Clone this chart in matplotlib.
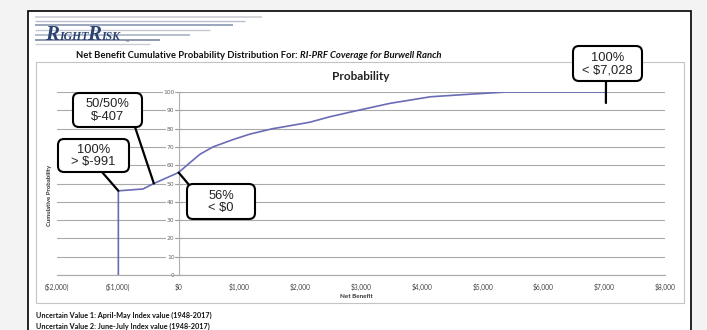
import matplotlib.pyplot as plt
from matplotlib.patches import Rectangle, FancyBboxPatch, ConnectionPatch

# cumulative distribution of net benefit
net_benefit = [-991, -991, -586, -407, 0, 138, 352, 566, 895, 1174, 1553, 1700,
               2161, 2490, 2983, 3477, 4145, 4842, 5400, 7028]
cum_prob = [0, 46, 47, 50, 56, 60, 66, 70, 74, 77, 80, 80.8,
            83.5, 86.5, 90.2, 93.8, 97.4, 98.9, 100, 100]

x_ticks = [-2000, -1000, 0, 1000, 2000, 3000, 4000, 5000, 6000, 7000, 8000]
x_labels = ['($2,000)', '($1,000)', '$0', '$1,000', '$2,000', '$3,000',
            '$4,000', '$5,000', '$6,000', '$7,000', '$8,000']
y_ticks = [0, 10, 20, 30, 40, 50, 60, 70, 80, 90, 100]

# callouts: text, point it refers to
callout_text = ['50/50%\n$-407', '100%\n> $-991', '56%\n< $0', '100%\n< $7,028']
callout_pts = [(-407, 50), (-991, 46), (0, 56), (7028, 94)]

footnotes = ['Uncertain Value 1: April-May Index value (1948-2017)',
             'Uncertain Value 2: June-July Index value (1948-2017)']

W, H = 707, 330
fig = plt.figure(figsize=(W / 100, H / 100), dpi=100, facecolor='#f3f3f3')

# page layer in pixel units
bg = fig.add_axes([0, 0, 1, 1], zorder=0)
bg.set_xlim(0, W)
bg.set_ylim(H, 0)
bg.axis('off')
bg.add_patch(Rectangle((28, 11), 663, 340, fc='white', ec='black', lw=1.2))
bg.add_patch(Rectangle((36, 62), 648, 241, fc='white', ec='#c4c4c4', lw=0.8))

# logo stripes + lettering
stripes = [(17, 262, '#c9cdd6', 1.2), (21, 245, '#b7bfcf', 1.0), (25, 233, '#9aa6bd', 1.4),
           (30, 210, '#c3c9d4', 1.0), (35, 190, '#aab3c5', 1.2), (40, 160, '#8d99b0', 1.4),
           (44, 150, '#c9cdd6', 1.0)]
for y, x1, c, lw in stripes:
    bg.plot([35, x1], [y, y], color=c, lw=lw, solid_capstyle='butt')
logo_parts = [(45, 'R', 15), (59, 'IGHT', 8.5), (87, 'R', 15), (101, 'ISK', 8.5)]
for x, s, fs in logo_parts:
    bg.text(x, 40, s, fontsize=fs, family='Liberation Serif', style='italic',
            weight='bold', color='#2b4270', va='baseline')
bg.text(124, 44, '™', fontsize=3.5, color='#2b4270')

t1 = bg.text(76, 58, 'Net Benefit Cumulative Probability Distribution For: ',
             fontsize=6.8, family='Lato', weight='bold', color='#111', va='baseline')
bg.annotate('RI-PRF Coverage for Burwell Ranch', xy=(1, 0), xycoords=t1,
            fontsize=6.8, family='Lato', weight='bold', style='italic',
            color='#111', va='bottom')
bg.text(361, 76, 'Probability', fontsize=8.5, family='Lato', weight='bold',
        color='#222', ha='center', va='center')
bg.text(50, 195, 'Cumulative Probability', rotation=90, fontsize=4.3,
        family='Lato', weight='bold', color='#333', ha='center', va='center')
bg.text(356, 297, 'Net Benefit', fontsize=4.5, family='Lato', weight='bold',
        color='#333', ha='center', va='center')
for i, s in enumerate(footnotes):
    bg.text(36, 315 + 11 * i, s, fontsize=5.2, family='Lato', weight='bold',
            color='#111', va='center')

# chart
ax = fig.add_axes([57 / W, (H - 275) / H, 608 / W, 183 / H], zorder=1)
ax.patch.set_alpha(0)
ax.plot(net_benefit, cum_prob, color='#6a6cb6', lw=1.2, zorder=3)
ax.set_xlim(-2000, 8000)
ax.set_ylim(0, 100)
ax.set_xticks(x_ticks)
ax.set_xticklabels(x_labels, family='Lato')
ax.set_yticks(y_ticks)
ax.set_yticklabels([str(v) for v in y_ticks], family='Lato')
ax.grid(axis='y', color='#a9a9a9', lw=0.8)
ax.set_axisbelow(True)
for s in ['top', 'right']:
    ax.spines[s].set_visible(False)
ax.spines['left'].set_position(('data', 0))
ax.spines['left'].set_color('#b0b0b0')
ax.spines['left'].set_linewidth(0.8)
ax.spines['bottom'].set_color('#a9a9a9')
ax.spines['bottom'].set_linewidth(0.8)
ax.tick_params(axis='x', length=0, pad=6, labelsize=4.8, labelcolor='#444')
ax.tick_params(axis='y', direction='inout', length=4, color='#a0a0a0',
               labelsize=4.3, labelcolor='#666', pad=1)
for lbl in ax.get_yticklabels():
    lbl.set_bbox(dict(fc='white', ec='none', pad=0.4))

# callout layer in pixel units
top = fig.add_axes([0, 0, 1, 1], zorder=2)
top.set_xlim(0, W)
top.set_ylim(H, 0)
top.axis('off')
top.patch.set_alpha(0)

boxes = [(73, 93, 69, 34), (58, 139, 71, 33), (187, 184, 68, 35), (573, 46, 69, 35)]
anchors = [(135, 127), (102, 172), (190, 186), (606, 81)]
for (x0, y0, w, h), txt, anc, pt in zip(boxes, callout_text, anchors, callout_pts):
    con = ConnectionPatch(xyA=anc, coordsA=top.transData, xyB=pt, coordsB=ax.transData,
                          color='black', lw=1.6)
    top.add_artist(con)
    top.add_patch(FancyBboxPatch((x0, y0), w, h, boxstyle='round,pad=0,rounding_size=6',
                                 fc='white', ec='black', lw=1.5, zorder=3))
    top.text(x0 + w / 2, y0 + h / 2 + 0.5, txt, fontsize=9.3, family='Liberation Sans',
             color='#222', ha='center', va='center', linespacing=1.05, zorder=4)

fig.savefig('out.png', dpi=100, facecolor=fig.get_facecolor())
